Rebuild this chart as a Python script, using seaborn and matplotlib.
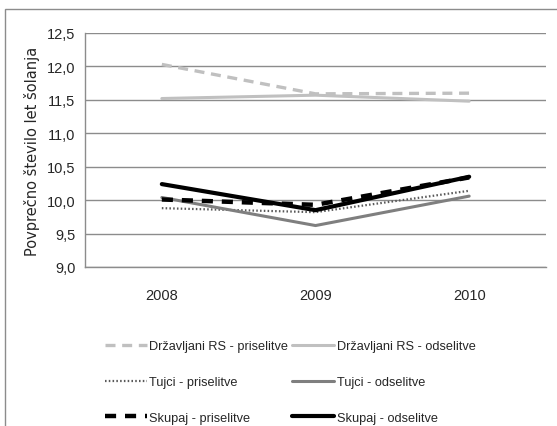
import matplotlib
matplotlib.use("Agg")
import matplotlib.pyplot as plt
import seaborn as sns
import pandas as pd
import numpy as np
from matplotlib.patches import Rectangle
from matplotlib.ticker import FuncFormatter

years = ["2008", "2009", "2010"]
series_names = [
    "Državljani RS - priselitve",
    "Državljani RS - odselitve",
    "Tujci - priselitve",
    "Tujci - odselitve",
    "Skupaj - priselitve",
    "Skupaj - odselitve",
]
drz_pri = [12.03, 11.59, 11.60]
drz_ods = [11.52, 11.57, 11.48]
tuj_pri = [9.88, 9.82, 10.14]
tuj_ods = [10.04, 9.62, 10.06]
sku_pri = [10.01, 9.93, 10.34]
sku_ods = [10.24, 9.85, 10.35]

styles = [
    dict(color="#c0c0c0", ls=(0, (3, 2)), lw=2.4),
    dict(color="#c0c0c0", ls="-", lw=2.2),
    dict(color="#595959", ls=(0, (0.7, 1.0)), lw=1.6),
    dict(color="#7f7f7f", ls="-", lw=2.2),
    dict(color="#000000", ls=(0, (2.5, 2)), lw=3.2),
    dict(color="#000000", ls="-", lw=3.0),
]

sns.set_style("white")
plt.rcParams["font.family"] = ["Liberation Sans", "DejaVu Sans"]

fig = plt.figure(figsize=(5.57, 4.27), dpi=100)
fig.patches.append(Rectangle((5 / 557, -0.1), 1.2, 1 - 10 / 427 + 0.1,
                             transform=fig.transFigure, fill=False,
                             edgecolor="#8c8c8c", lw=1.0))
ax = fig.add_axes([85 / 557, 1 - 268 / 427, 461 / 557, 234 / 427])

x = np.arange(len(years))
for name, vals, st in zip(series_names,
                          [drz_pri, drz_ods, tuj_pri, tuj_ods, sku_pri, sku_ods],
                          styles):
    df = pd.DataFrame({"x": x, "y": vals})
    sns.lineplot(data=df, x="x", y="y", ax=ax, color=st["color"],
                 linestyle=st["ls"], linewidth=st["lw"], label=name)

ax.set_xlim(-0.5, 2.5)
ax.set_ylim(9.0, 12.5)
ax.set_yticks(np.arange(9.0, 12.51, 0.5))
ax.yaxis.set_major_formatter(FuncFormatter(lambda v, p: f"{v:.1f}".replace(".", ",")))
ax.set_xticks(x)
ax.set_xticklabels(years)
ax.set_xticks([-0.5, 0.5, 1.5, 2.5], minor=True)
ax.tick_params(axis="x", which="major", length=0, pad=15, labelsize=10.5)
ax.tick_params(axis="x", which="minor", length=5, color="#8c8c8c", width=1)
ax.tick_params(axis="y", length=4, color="#8c8c8c", width=1, labelsize=10.5, pad=3)
ax.grid(axis="y", color="#8c8c8c", lw=1)
ax.grid(axis="x", visible=False)
ax.set_axisbelow(True)
for s in ["top", "right"]:
    ax.spines[s].set_visible(False)
for s in ["left", "bottom"]:
    ax.spines[s].set_color("#8c8c8c")
    ax.spines[s].set_linewidth(1)
ax.set_xlabel("")
ax.set_ylabel("Povprečno število let šolanja", fontsize=10.5,
              family="DejaVu Sans", labelpad=5)

handles, labels = ax.get_legend_handles_labels()
order = [0, 2, 4, 1, 3, 5]
ax.legend([handles[i] for i in order], [labels[i] for i in order], ncol=2,
          frameon=False, loc="upper left",
          bbox_to_anchor=(93 / 557, 1 - 330 / 427), bbox_transform=fig.transFigure,
          handlelength=3.3, handletextpad=0.2, columnspacing=0.3,
          labelspacing=1.85, fontsize=9.2)

fig.savefig("out.png", dpi=100)
